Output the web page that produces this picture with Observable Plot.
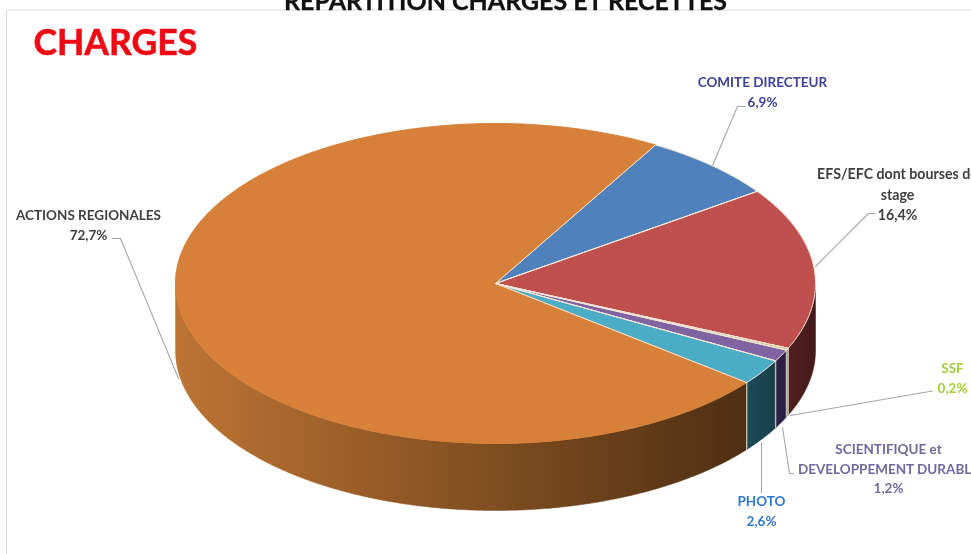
<!DOCTYPE html>
<html><head><meta charset="utf-8">
<script src="https://cdn.jsdelivr.net/npm/d3@7"></script>
<script src="https://cdn.jsdelivr.net/npm/@observablehq/plot@0.6"></script>
<style>html,body{margin:0;padding:0;background:#fff;overflow:hidden}svg{display:block;filter:blur(0.45px)}</style>
</head><body><div id="chart"></div>
<script>
const categories = ["COMITE DIRECTEUR","EFS/EFC dont bourses de stage","SSF","SCIENTIFIQUE et DEVELOPPEMENT DURABLE","PHOTO","ACTIONS REGIONALES"];
const values = [6.9,16.4,0.2,1.2,2.6,72.7];
const valueLabels = ["6,9%","16,4%","0,2%","1,2%","2,6%","72,7%"];
const topColors = ["#4f81bd","#c0504d","#b9c47c","#8064a2","#4bacc6","#d68039"];
const rimColors = ["#f3e6d8","#f3e6d8","#f3e6d8","#f3e6d8","#f3e6d8","#d68039"];
const sideFrom = ["#2f4d72","#511f1f","#9a9a80","#302248","#1c4a56","#bd7433"];
const sideTo = ["#2f4d72","#451a1a","#9a9a80","#2b1f42","#16404b","#4e2f12"];
const textColors = ["#3d4296","#404040","#a4cc3a","#6c6a9e","#2f78c8","#404040"];
const labelLines = ["COMITE DIRECTEUR\n6,9%","EFS/EFC dont bourses de\nstage\n16,4%","SSF\n0,2%","SCIENTIFIQUE et\nDEVELOPPEMENT DURABLE\n1,2%","PHOTO\n2,6%","ACTIONS REGIONALES\n72,7%"];

// layout (pixels), kept apart from the data
const W = 971, H = 554, CX = 495, CY = 283, RX = 320, RY = 160, DEPTH = 67 / 160, START = 30;
const px = (v) => (v - CX) / RX, py = (v) => (CY - v) / RY;
const labelAt = [[762,90],[897,192.5],[952,376.5],[888,467],[761,509],[88,223.5]];
const labelSize = [13.5,14.2,13.5,13.5,13.5,13.5];
const leaders = [
  [[745,106],[737,106],[712,165]],
  [[875,213],[868,213],[815,266]],
  [[932,390.5],[926,391.5],[790,415]],
  [[793,473],[789,473],[782,427]],
  [[761,492],[761,442]],
  [[112,238],[120,238],[178,378]]
];

const total = d3.sum(values);
let acc = START;
const slices = values.map((v, i) => { const a0 = acc; acc += v / total * 360; return {i, a0, a1: acc}; });
const pt = (a, dz = 0) => ({x: Math.sin(a * Math.PI / 180), y: Math.cos(a * Math.PI / 180) - dz});
const arc = (a0, a1) => { const n = Math.max(2, Math.ceil((a1 - a0) / 0.5)); return d3.range(n + 1).map(k => a0 + (a1 - a0) * k / n); };

const topPts = s => { const o = {x: 0, y: 0}; return [o, ...arc(s.a0, s.a1).map(a => pt(a)), o]; };
const sidePts = s => {
  const a0 = Math.max(s.a0, 90), a1 = Math.min(s.a1, 270);
  if (a1 <= a0) return null;
  const as = arc(a0, a1);
  const ring = [...as.map(a => pt(a)), ...as.slice().reverse().map(a => pt(a, DEPTH))];
  return [...ring, ring[0]];
};

const gradients = () => {
  const ns = "http://www.w3.org/2000/svg";
  const defs = document.createElementNS(ns, "defs");
  slices.forEach(s => {
    const g = document.createElementNS(ns, "linearGradient");
    g.setAttribute("id", "side" + s.i);
    g.setAttribute("gradientUnits", "userSpaceOnUse");
    const xa = CX + RX * Math.min(pt(Math.max(s.a0, 90)).x, pt(Math.min(s.a1, 270)).x);
    const xb = CX + RX * Math.max(pt(Math.max(s.a0, 90)).x, pt(Math.min(s.a1, 270)).x);
    g.setAttribute("x1", xa); g.setAttribute("x2", xb); g.setAttribute("y1", 0); g.setAttribute("y2", 0);
    [[0, sideFrom[s.i]], [1, sideTo[s.i]]].forEach(([o, c]) => {
      const st = document.createElementNS(ns, "stop");
      st.setAttribute("offset", o); st.setAttribute("stop-color", c); g.appendChild(st);
    });
    defs.appendChild(g);
  });
  return defs;
};

const font = "Lato, 'Open Sans', sans-serif";
const sideMarks = slices.map(s => {
  const p = sidePts(s);
  return p && Plot.line(p, {x: "x", y: "y", fill: `url(#side${s.i})`, stroke: `url(#side${s.i})`, strokeWidth: 0.5});
}).filter(Boolean);
const edgeAngles = slices.map(s => s.a0).concat(slices.map(s => s.a1)).filter(a => a > 90 && a < 270);
const edgeMarks = [...new Set(edgeAngles)].map(a => Plot.line([pt(a), pt(a, DEPTH)], {x: "x", y: "y", stroke: "#b9bdb0", strokeWidth: 1.4}));
const topMarks = slices.map(s => Plot.line(topPts(s), {x: "x", y: "y", fill: topColors[s.i], stroke: rimColors[s.i], strokeWidth: 1}));
const seamMarks = slices.map(s => Plot.line([{x: 0, y: 0}, pt(s.a0)], {x: "x", y: "y", stroke: "#f3e6d8", strokeWidth: 1}));
const leaderMarks = leaders.map(l => Plot.line(l.map(([x, y]) => ({x: px(x), y: py(y)})), {x: "x", y: "y", stroke: "#a6a6a6", strokeWidth: 1.1}));
const labelMarks = categories.map((c, i) => Plot.text([labelLines[i]], {
  x: () => px(labelAt[i][0]), y: () => py(labelAt[i][1]), text: d => d,
  fill: textColors[i], fontFamily: font, fontWeight: 700, fontSize: labelSize[i], lineHeight: 1.45, textAnchor: "middle", lineAnchor: "middle"
}));

const chart = Plot.plot({
  width: W, height: H, margin: 0, style: {background: "#fff", fontFamily: font},
  x: {domain: [-1, 1], range: [CX - RX, CX + RX], axis: null},
  y: {domain: [-1, 1], range: [CY + RY, CY - RY], axis: null},
  marks: [
    gradients,
    Plot.line([[6,554],[6,9.5],[971,9.5]].map(([x, y]) => ({x: px(x), y: py(y)})), {x: "x", y: "y", stroke: "#d9d9d9", strokeWidth: 1}),
    Plot.text(["REPARTITION CHARGES ET RECETTES"], {x: () => px(505), y: () => py(9.5), text: d => d, fill: "#111", stroke: "#111", strokeWidth: 0.3, fontFamily: font, fontWeight: 700, fontSize: 25, textAnchor: "middle", lineAnchor: "bottom"}),
    Plot.text(["CHARGES"], {x: () => px(33), y: () => py(43), text: d => d, fill: "#ee0a14", stroke: "#ee0a14", strokeWidth: 0.6, fontFamily: font, fontWeight: 700, fontSize: 35.5, textAnchor: "start", lineAnchor: "middle"}),
    ...leaderMarks,
    ...sideMarks,
    ...edgeMarks,
    ...topMarks,
    ...seamMarks,
    ...labelMarks
  ]
});
document.getElementById("chart").appendChild(chart);
</script></body></html>
